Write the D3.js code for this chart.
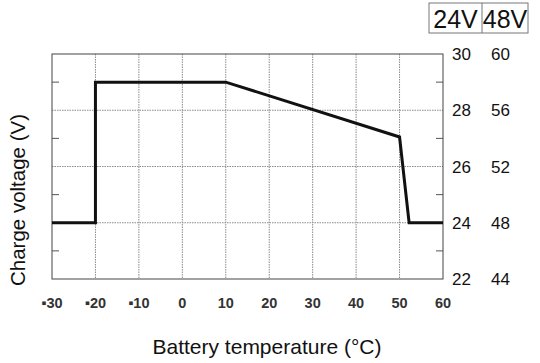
<!DOCTYPE html>
<html>
<head>
<meta charset="utf-8">
<script src="https://cdn.jsdelivr.net/npm/d3@7"></script>
<style>
  body { margin: 0; background: #fff; }
  text { font-family: "Liberation Sans", Arial, sans-serif; fill: #111; }
</style>
</head>
<body>
<div></div>
<script>
// charge curve (24V system)
const temps = [-30, -20, -20, 10, 50, 52.2, 60];
const volts = [24, 24, 29, 29, 27.05, 24, 24];
const xTicks = [-30, -20, -10, 0, 10, 20, 30, 40, 50, 60];
const xTickLabels = ["\u25aa30", "\u25aa20", "\u25aa10", "0", "10", "20", "30", "40", "50", "60"];
const yMajor = [22, 24, 26, 28, 30];
const yMinor = [23, 25, 27, 29];
const y48Labels = ["44", "48", "52", "56", "60"];
const headers = ["24V", "48V"];

const w = 540;
const h = 363;
const svg = d3.select("div").append("svg").attr("width", w).attr("height", h);

const pLeft = 52, pRight = 443, pTop = 54, pBottom = 279;
const x = d3.scaleLinear().domain([-30, 60]).range([pLeft, pRight]);
const y = d3.scaleLinear().domain([22, 30]).range([pBottom, pTop]);

// grid
svg
  .append("g")
  .selectAll("line")
  .data(xTicks.slice(1, -1))
  .enter()
  .append("line")
  .attr("x1", (d) => x(d))
  .attr("x2", (d) => x(d))
  .attr("y1", pTop)
  .attr("y2", pBottom)
  .attr("stroke", "#8a8a8a")
  .attr("stroke-dasharray", "1.5,1");
svg
  .append("g")
  .selectAll("line")
  .data(yMajor.slice(1, -1))
  .enter()
  .append("line")
  .attr("x1", pLeft)
  .attr("x2", pRight)
  .attr("y1", (d) => y(d))
  .attr("y2", (d) => y(d))
  .attr("stroke", "#8a8a8a")
  .attr("stroke-dasharray", "1.5,1");

// minor ticks on both sides, pointing in
const minor = svg.append("g");
minor
  .selectAll(".tl")
  .data(yMinor)
  .enter()
  .append("line")
  .attr("x1", pLeft)
  .attr("x2", pLeft + 7)
  .attr("y1", (d) => y(d))
  .attr("y2", (d) => y(d))
  .attr("stroke", "#555");
minor
  .selectAll(".tr")
  .data(yMinor)
  .enter()
  .append("line")
  .attr("x1", pRight - 7)
  .attr("x2", pRight)
  .attr("y1", (d) => y(d))
  .attr("y2", (d) => y(d))
  .attr("stroke", "#555");

// frame
svg
  .append("rect")
  .attr("x", pLeft)
  .attr("y", pTop)
  .attr("width", pRight - pLeft)
  .attr("height", pBottom - pTop)
  .attr("fill", "none")
  .attr("stroke", "#444")
  .attr("stroke-width", 1);

// curve
const line = d3
  .line()
  .x((d, i) => x(temps[i]))
  .y((d) => y(d));
svg
  .append("path")
  .datum(volts)
  .attr("d", line)
  .attr("fill", "none")
  .attr("stroke", "#111")
  .attr("stroke-width", 3)
  .attr("stroke-linejoin", "miter");

// x tick labels
svg
  .append("g")
  .selectAll("text")
  .data(xTicks)
  .enter()
  .append("text")
  .attr("x", (d) => x(d))
  .attr("y", 308)
  .attr("text-anchor", "middle")
  .style("font-size", "14.5px")
  .style("font-weight", "bold")
  .style("fill", "#333")
  .text((d, i) => xTickLabels[i]);

// right labels (24V and 48V columns)
svg
  .append("g")
  .selectAll("text")
  .data(yMajor)
  .enter()
  .append("text")
  .attr("x", 452)
  .attr("y", (d) => y(d) + 6)
  .style("font-size", "17px")
  .text((d) => d);
svg
  .append("g")
  .selectAll("text")
  .data(yMajor)
  .enter()
  .append("text")
  .attr("x", 491)
  .attr("y", (d) => y(d) + 6)
  .style("font-size", "17px")
  .text((d, i) => y48Labels[i]);

// header box
const hx = [429, 482, 528];
svg
  .append("rect")
  .attr("x", hx[0])
  .attr("y", 3)
  .attr("width", hx[2] - hx[0])
  .attr("height", 30)
  .attr("fill", "none")
  .attr("stroke", "#777");
svg
  .append("line")
  .attr("x1", hx[1])
  .attr("x2", hx[1])
  .attr("y1", 3)
  .attr("y2", 33)
  .attr("stroke", "#777");
svg
  .append("g")
  .selectAll("text")
  .data(headers)
  .enter()
  .append("text")
  .attr("x", (d, i) => (hx[i] + hx[i + 1]) / 2)
  .attr("y", 28)
  .attr("text-anchor", "middle")
  .style("font-size", "25px")
  .text((d) => d);

// axis titles
svg
  .append("text")
  .attr("x", 267)
  .attr("y", 354)
  .attr("text-anchor", "middle")
  .style("font-size", "21px")
  .text("Battery temperature (\u00b0C)");
svg
  .append("text")
  .attr("transform", "translate(25,200) rotate(-90)")
  .attr("text-anchor", "middle")
  .style("font-size", "20.5px")
  .text("Charge voltage (V)");
</script>
</body>
</html>
